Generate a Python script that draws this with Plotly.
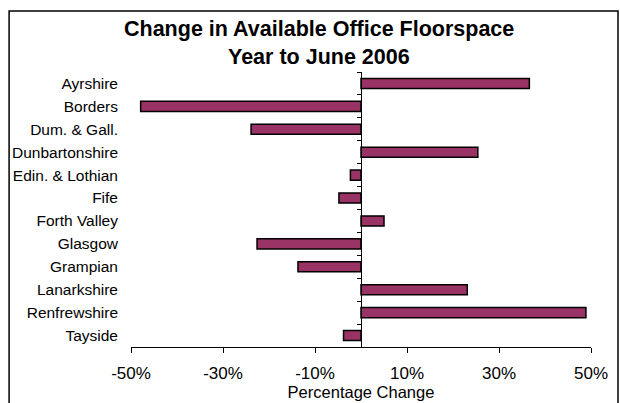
import plotly.graph_objects as go

# Regions and their change in available office floorspace, year to June 2006 (%)
regions = [
    "Ayrshire", "Borders", "Dum. & Gall.", "Dunbartonshire", "Edin. & Lothian",
    "Fife", "Forth Valley", "Glasgow", "Grampian", "Lanarkshire",
    "Renfrewshire", "Tayside",
]
change_pct = [36.6, -47.9, -23.9, 25.4, -2.3, -4.8, 5.0, -22.6, -13.7, 23.1, 48.9, -3.8]

x_ticks = [-50, -30, -10, 10, 30, 50]
x_tick_labels = [f"{v}%" for v in x_ticks]

title_lines = ["Change in Available Office Floorspace", "Year to June 2006"]
x_title = "Percentage Change"

FONT = "Liberation Sans, Arial, sans-serif"
n = len(regions)

fig = go.Figure()
fig.add_trace(go.Bar(
    y=regions,
    x=change_pct,
    orientation="h",
    marker=dict(color="#993366", line=dict(color="black", width=1.5)),
    showlegend=False,
    hovertemplate="%{y}: %{x:.1f}%<extra></extra>",
))

# invisible companion trace so the zero-line axis (y2) gets drawn
fig.add_trace(go.Scatter(
    x=[0] * n,
    y=list(range(n)),
    yaxis="y2",
    mode="markers",
    marker=dict(opacity=0),
    showlegend=False,
    hoverinfo="skip",
))

fig.update_layout(
    width=620,
    height=403,
    margin=dict(l=131, r=29, t=72, b=56, autoexpand=False),
    paper_bgcolor="white",
    plot_bgcolor="white",
    bargap=0.56,
    font=dict(family=FONT, color="black", size=15),
    xaxis=dict(
        range=[-50, 50],
        tickvals=x_ticks,
        ticktext=x_tick_labels,
        ticks="outside",
        ticklen=5,
        tickcolor="black",
        showline=True,
        linecolor="black",
        linewidth=1,
        showgrid=False,
        zeroline=False,
        automargin=False,
        ticklabelstandoff=6,
        tickfont=dict(size=17),
        title=dict(text=x_title, font=dict(size=16.5), standoff=3),
    ),
    yaxis=dict(
        type="category",
        categoryorder="array",
        categoryarray=regions,
        range=[n - 0.5, -0.5],
        showline=False,
        ticks="",
        showgrid=False,
        zeroline=False,
        automargin=False,
        ticklabelstandoff=12,
        tickfont=dict(size=15.5),
    ),
    # vertical axis line through zero with ticks at category boundaries
    yaxis2=dict(
        overlaying="y",
        anchor="free",
        position=0.5,
        side="left",
        range=[n - 0.5, -0.5],
        tickvals=[i - 0.5 for i in range(n + 1)],
        showticklabels=False,
        ticks="outside",
        ticklen=4,
        tickcolor="black",
        showline=True,
        linecolor="black",
        linewidth=1,
        showgrid=False,
        zeroline=False,
        automargin=False,
    ),
    shapes=[
        dict(
            type="rect", xref="paper", yref="paper",
            x0=-0.265, x1=1.0587, y0=-0.25, y1=1.2218,
            line=dict(color="black", width=1.5),
            fillcolor="rgba(0,0,0,0)",
            layer="below",
        )
    ],
    annotations=[
        dict(text=f"<b>{title_lines[0]}</b>", xref="paper", yref="paper",
             x=0.409, y=1.156, showarrow=False, xanchor="center", yanchor="middle",
             font=dict(size=21.5, family=FONT, color="black")),
        dict(text=f"<b>{title_lines[1]}</b>", xref="paper", yref="paper",
             x=0.409, y=1.055, showarrow=False, xanchor="center", yanchor="middle",
             font=dict(size=21.5, family=FONT, color="black")),
    ],
)

fig.write_html("out.html")
